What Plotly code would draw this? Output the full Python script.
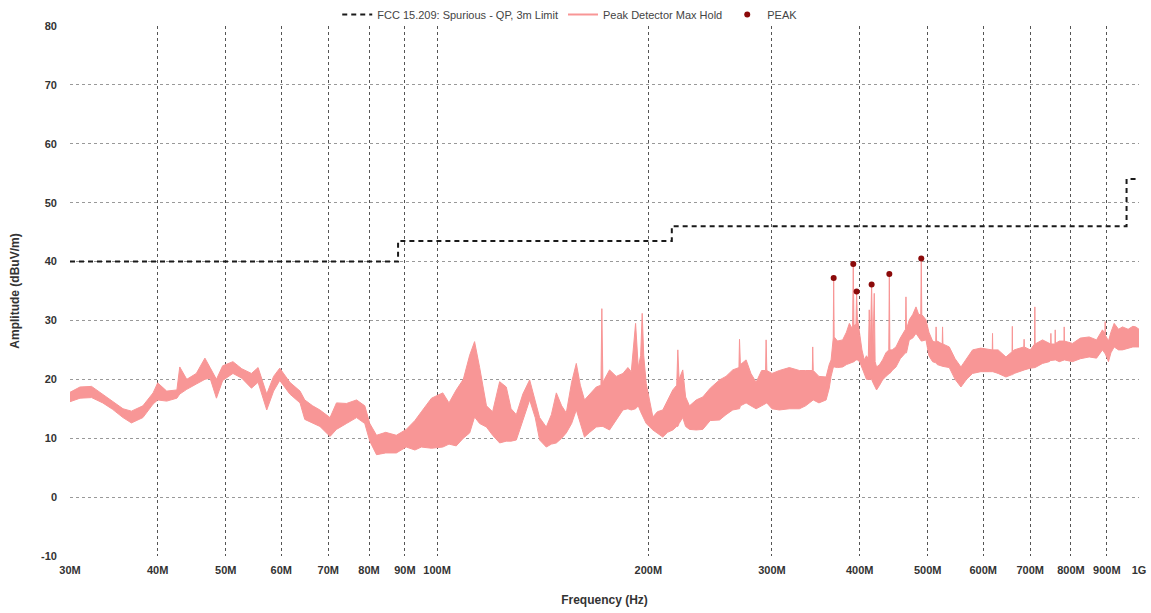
import plotly.graph_objects as go

# ---- data (frequency in MHz, amplitude in dBuV/m) ----
freq_mhz = [
    30.0, 31.0, 32.2, 33.4, 34.5, 35.7, 36.7, 38.1, 39.4, 40.0,
    41.2, 42.6, 43.0, 44.0, 45.4, 46.7, 47.5, 48.5, 49.5, 51.2,
    52.7, 54.4, 55.6, 57.2, 58.5, 59.7, 61.7, 63.8, 64.8, 66.5,
    68.1, 70.4, 71.9, 74.3, 76.8, 78.9, 80.2, 82.0, 84.5, 87.5,
    90.4, 93.0, 95.0, 98.2, 101.9, 104.0, 106.5, 109.0, 111.3, 113.1,
    115.0, 117.6, 120.0, 122.8, 125.5, 127.5, 129.7, 132.5, 135.5, 138.0,
    140.0, 143.1, 145.5, 147.9, 150.5, 152.8, 155.5, 157.9, 160.0, 162.2,
    165.0, 168.6, 171.2, 171.7, 172.3, 176.1, 180.0, 184.0, 187.0, 189.1,
    191.8, 193.5, 195.0, 196.0, 197.0, 198.6, 203.0, 206.0, 209.7, 213.0,
    216.7, 219.5, 220.3, 221.2, 223.9, 226.0, 228.9, 234.0, 239.1, 245.0,
    252.6, 258.0, 263.8, 269.2, 269.7, 270.5, 275.6, 280.0, 284.8, 290.0,
    293.8, 294.3, 295.0, 300.0, 307.4, 317.6, 328.3, 335.0, 342.5, 342.9,
    343.5, 350.0, 358.3, 362.0, 364.2, 366.8, 367.3, 367.9, 372.0, 378.3,
    383.0, 386.7, 390.8, 391.7, 392.6, 395.2, 396.0, 396.9, 400.0, 403.0,
    406.1, 409.0, 411.5, 412.8, 414.0, 416.0, 417.6, 419.6, 420.8, 422.8,
    427.0, 431.2, 436.0, 440.1, 440.9, 441.7, 445.0, 450.6, 457.0, 464.9,
    465.6, 466.4, 470.7, 476.0, 481.2, 485.5, 488.8, 489.6, 490.4, 497.2,
    502.0, 508.1, 513.4, 514.0, 514.6, 516.0, 524.4, 525.0, 525.6, 536.7,
    547.0, 557.6, 568.0, 579.3, 595.0, 611.9, 618.0, 618.5, 619.0, 630.0,
    646.3, 659.4, 660.0, 660.6, 664.0, 682.4, 685.4, 686.0, 686.6, 700.0,
    710.0, 710.6, 711.2, 728.7, 745.0, 748.5, 749.0, 749.6, 759.2, 759.7,
    760.2, 770.0, 782.0, 782.4, 783.0, 804.0, 825.0, 849.3, 870.0, 887.1,
    894.4, 895.0, 895.6, 904.7, 912.0, 921.8, 935.0, 947.2, 965.0, 980.0,
    989.6, 1000.0,
]
amp_lo = [
    16.2, 16.8, 16.9, 16.0, 14.9, 13.5, 12.6, 13.5, 15.8, 16.5,
    16.3, 16.8, 17.5, 18.3, 19.2, 20.0, 20.2, 16.8, 19.8, 21.0,
    20.2, 18.5, 19.5, 14.8, 18.0, 19.8, 17.5, 16.0, 13.2, 12.5,
    12.0, 10.3, 11.5, 12.5, 13.5, 12.5, 9.5, 7.2, 7.5, 7.5,
    8.5, 8.0, 8.5, 8.3, 8.5, 9.0, 8.7, 10.0, 10.9, 13.6,
    12.5, 11.9, 10.5, 9.2, 9.5, 9.5, 9.7, 13.0, 16.5, 13.5,
    9.7, 8.5, 9.0, 9.2, 10.0, 10.9, 12.5, 14.8, 12.5, 10.2,
    11.0, 11.9, 12.0, 12.0, 12.0, 11.4, 13.0, 14.8, 15.0, 14.8,
    15.0, 15.5, 14.5, 14.0, 13.5, 12.5, 11.4, 10.8, 10.2, 11.0,
    11.4, 12.0, 12.0, 12.5, 13.5, 12.0, 11.5, 11.4, 11.5, 13.0,
    13.1, 14.0, 14.8, 15.0, 15.0, 15.5, 16.0, 15.5, 15.0, 15.5,
    16.0, 16.0, 16.0, 15.0, 14.8, 15.0, 15.0, 15.5, 16.5, 16.5,
    16.5, 16.0, 16.5, 18.5, 20.5, 22.0, 22.1, 22.1, 22.0, 22.1,
    22.5, 22.7, 23.0, 23.0, 23.0, 23.3, 23.3, 23.3, 23.0, 22.0,
    21.0, 20.0, 20.0, 20.0, 20.0, 20.0, 19.5, 19.0, 18.5, 18.2,
    19.0, 19.9, 20.5, 21.0, 21.0, 21.0, 21.5, 22.1, 23.5, 24.5,
    24.5, 24.5, 26.7, 27.0, 27.8, 27.0, 26.5, 26.5, 26.5, 26.7,
    24.0, 23.0, 22.8, 22.8, 22.7, 22.5, 22.2, 22.2, 22.2, 22.0,
    20.0, 18.7, 20.0, 21.0, 21.3, 21.3, 21.3, 21.3, 21.3, 21.0,
    20.4, 20.8, 20.8, 20.8, 21.0, 21.6, 21.6, 21.6, 21.6, 21.9,
    22.0, 22.0, 22.0, 22.7, 23.0, 23.2, 23.2, 23.2, 23.3, 23.3,
    23.3, 23.0, 23.3, 23.3, 23.3, 23.0, 23.5, 23.8, 23.6, 25.0,
    24.5, 24.5, 24.3, 23.0, 24.5, 25.5, 25.0, 25.0, 25.3, 25.5,
    25.5, 25.5,
]
amp_hi = [
    17.8, 18.7, 18.8, 17.5, 16.2, 15.0, 14.6, 15.5, 17.7, 19.4,
    18.0, 18.2, 22.1, 20.0, 21.0, 23.6, 22.0, 20.0, 22.3, 23.0,
    21.8, 21.0, 22.0, 17.5, 20.5, 21.9, 19.5, 18.0, 16.5, 15.5,
    14.8, 13.5, 16.0, 15.9, 16.5, 15.5, 12.5, 10.5, 11.0, 10.5,
    11.5, 13.0, 14.5, 16.8, 17.7, 16.0, 18.2, 20.0, 24.1, 26.4,
    22.0, 15.5, 14.5, 19.6, 18.7, 15.0, 14.0, 17.5, 19.9, 16.5,
    13.5, 11.9, 14.0, 17.7, 15.5, 14.3, 19.5, 22.7, 19.0, 16.5,
    17.5, 18.7, 19.0, 32.0, 19.5, 21.6, 20.5, 21.0, 22.0, 21.3,
    29.5, 22.0, 24.0, 31.2, 24.0, 19.3, 13.6, 14.5, 14.8, 16.5,
    18.2, 19.0, 25.0, 20.0, 21.6, 17.0, 15.5, 16.5, 17.0, 18.5,
    19.9, 20.5, 21.6, 22.0, 26.8, 22.5, 23.3, 21.0, 19.5, 21.5,
    21.5, 26.7, 21.5, 21.0, 21.5, 22.0, 21.5, 21.5, 21.5, 25.5,
    21.5, 20.5, 20.4, 22.5, 23.3, 27.0, 37.2, 27.2, 26.5, 26.7,
    28.0, 29.5, 28.5, 39.6, 29.0, 29.5, 34.9, 30.6, 28.0, 25.0,
    23.3, 24.0, 23.5, 31.8, 24.0, 36.1, 24.0, 34.6, 23.0, 22.1,
    22.5, 23.3, 24.5, 25.0, 37.9, 25.0, 25.0, 25.5, 27.0, 28.5,
    34.0, 28.5, 30.1, 31.0, 32.3, 31.0, 31.0, 40.5, 31.0, 30.1,
    28.0, 26.5, 26.3, 28.9, 26.3, 26.5, 26.0, 28.9, 26.0, 25.5,
    23.5, 22.1, 23.5, 25.0, 25.3, 25.0, 25.0, 27.8, 25.0, 25.0,
    23.8, 24.7, 29.0, 24.7, 25.0, 25.5, 25.5, 26.8, 25.5, 25.0,
    26.0, 32.3, 26.0, 26.7, 26.0, 26.0, 27.8, 26.0, 26.0, 28.4,
    26.1, 26.5, 26.5, 28.9, 26.5, 26.1, 27.0, 27.2, 26.7, 28.4,
    27.8, 29.8, 27.5, 26.5, 28.0, 29.5, 28.5, 28.9, 28.5, 29.0,
    28.9, 28.5,
]

limit_freq = [30, 88, 88, 216, 216, 960, 960, 1000]
limit_amp = [40, 40, 43.5, 43.5, 46, 46, 54, 54]

peak_freq = [367.3, 391.7, 396.0, 416.0, 440.9, 489.6]
peak_amp = [37.2, 39.6, 34.9, 36.1, 37.9, 40.5]

x_tick_vals = [30, 40, 50, 60, 70, 80, 90, 100, 200, 300, 400, 500, 600, 700, 800, 900, 1000]
x_tick_text = ["30M", "40M", "50M", "60M", "70M", "80M", "90M", "100M", "200M", "300M",
               "400M", "500M", "600M", "700M", "800M", "900M", "1G"]
y_tick_vals = [-10, 0, 10, 20, 30, 40, 50, 60, 70, 80]
y_tick_text = ["-10", "0", "10", "20", "30", "40", "50", "60", "70", "80"]

TRACE_COLOR = "rgb(248,150,150)"

fig = go.Figure()

# band of the max-hold trace (lower edge, then upper edge filled to it)
fig.add_trace(go.Scatter(
    x=freq_mhz, y=amp_lo, mode="lines",
    line=dict(color=TRACE_COLOR, width=1), showlegend=False, hoverinfo="skip",
))
fig.add_trace(go.Scatter(
    x=freq_mhz, y=amp_hi, mode="lines", fill="tonexty", fillcolor=TRACE_COLOR,
    line=dict(color=TRACE_COLOR, width=1), showlegend=False,
))

fig.add_trace(go.Scatter(
    x=limit_freq, y=limit_amp, mode="lines", name="FCC 15.209: Spurious - QP, 3m Limit",
    line=dict(color="#1a1a1a", width=2, dash="5px,4px"),
))
# legend entry for the max-hold trace
fig.add_trace(go.Scatter(
    x=[None], y=[None], mode="lines", name="Peak Detector Max Hold",
    line=dict(color=TRACE_COLOR, width=2),
))
fig.add_trace(go.Scatter(
    x=peak_freq, y=peak_amp, mode="markers", name="PEAK",
    marker=dict(color="#8b0a0a", size=6),
))

fig.update_layout(
    width=1151, height=613,
    margin=dict(l=70, r=12, t=26, b=57, autoexpand=False),
    paper_bgcolor="white", plot_bgcolor="white",
    font=dict(family="Liberation Sans, Arial, sans-serif", size=11, color="#333"),
    showlegend=True,
    legend=dict(
        orientation="h", x=0.495, xanchor="center", xref="container",
        y=1.0, yanchor="top", yref="container", traceorder="normal",
        font=dict(size=11, color="#444"), bgcolor="rgba(0,0,0,0)",
        itemwidth=30, tracegroupgap=0,
    ),
)

fig.update_xaxes(
    type="log", range=[1.4771213, 3.0],
    tickvals=x_tick_vals, ticktext=x_tick_text,
    tickfont=dict(size=11, color="#333", weight="bold"),
    showgrid=True, gridcolor="#555", griddash="dot", gridwidth=1,
    zeroline=False, showline=False, ticks="", ticklabelstandoff=6,
    title=dict(text="Frequency (Hz)", font=dict(size=12, color="#333", weight="bold"), standoff=20),
)
fig.update_yaxes(
    range=[-10, 80], tickvals=y_tick_vals, ticktext=y_tick_text,
    tickfont=dict(size=11, color="#333", weight="bold"),
    showgrid=True, gridcolor="#999", griddash="dot", gridwidth=1,
    zeroline=False, showline=False, ticks="", ticklabelstandoff=12,
    title=dict(text="Amplitude (dBuV/m)", font=dict(size=12, color="#333", weight="bold"), standoff=18),
)

fig.write_html("out.html", config={"displayModeBar": False},
               post_script="document.body.style.margin='0';")
